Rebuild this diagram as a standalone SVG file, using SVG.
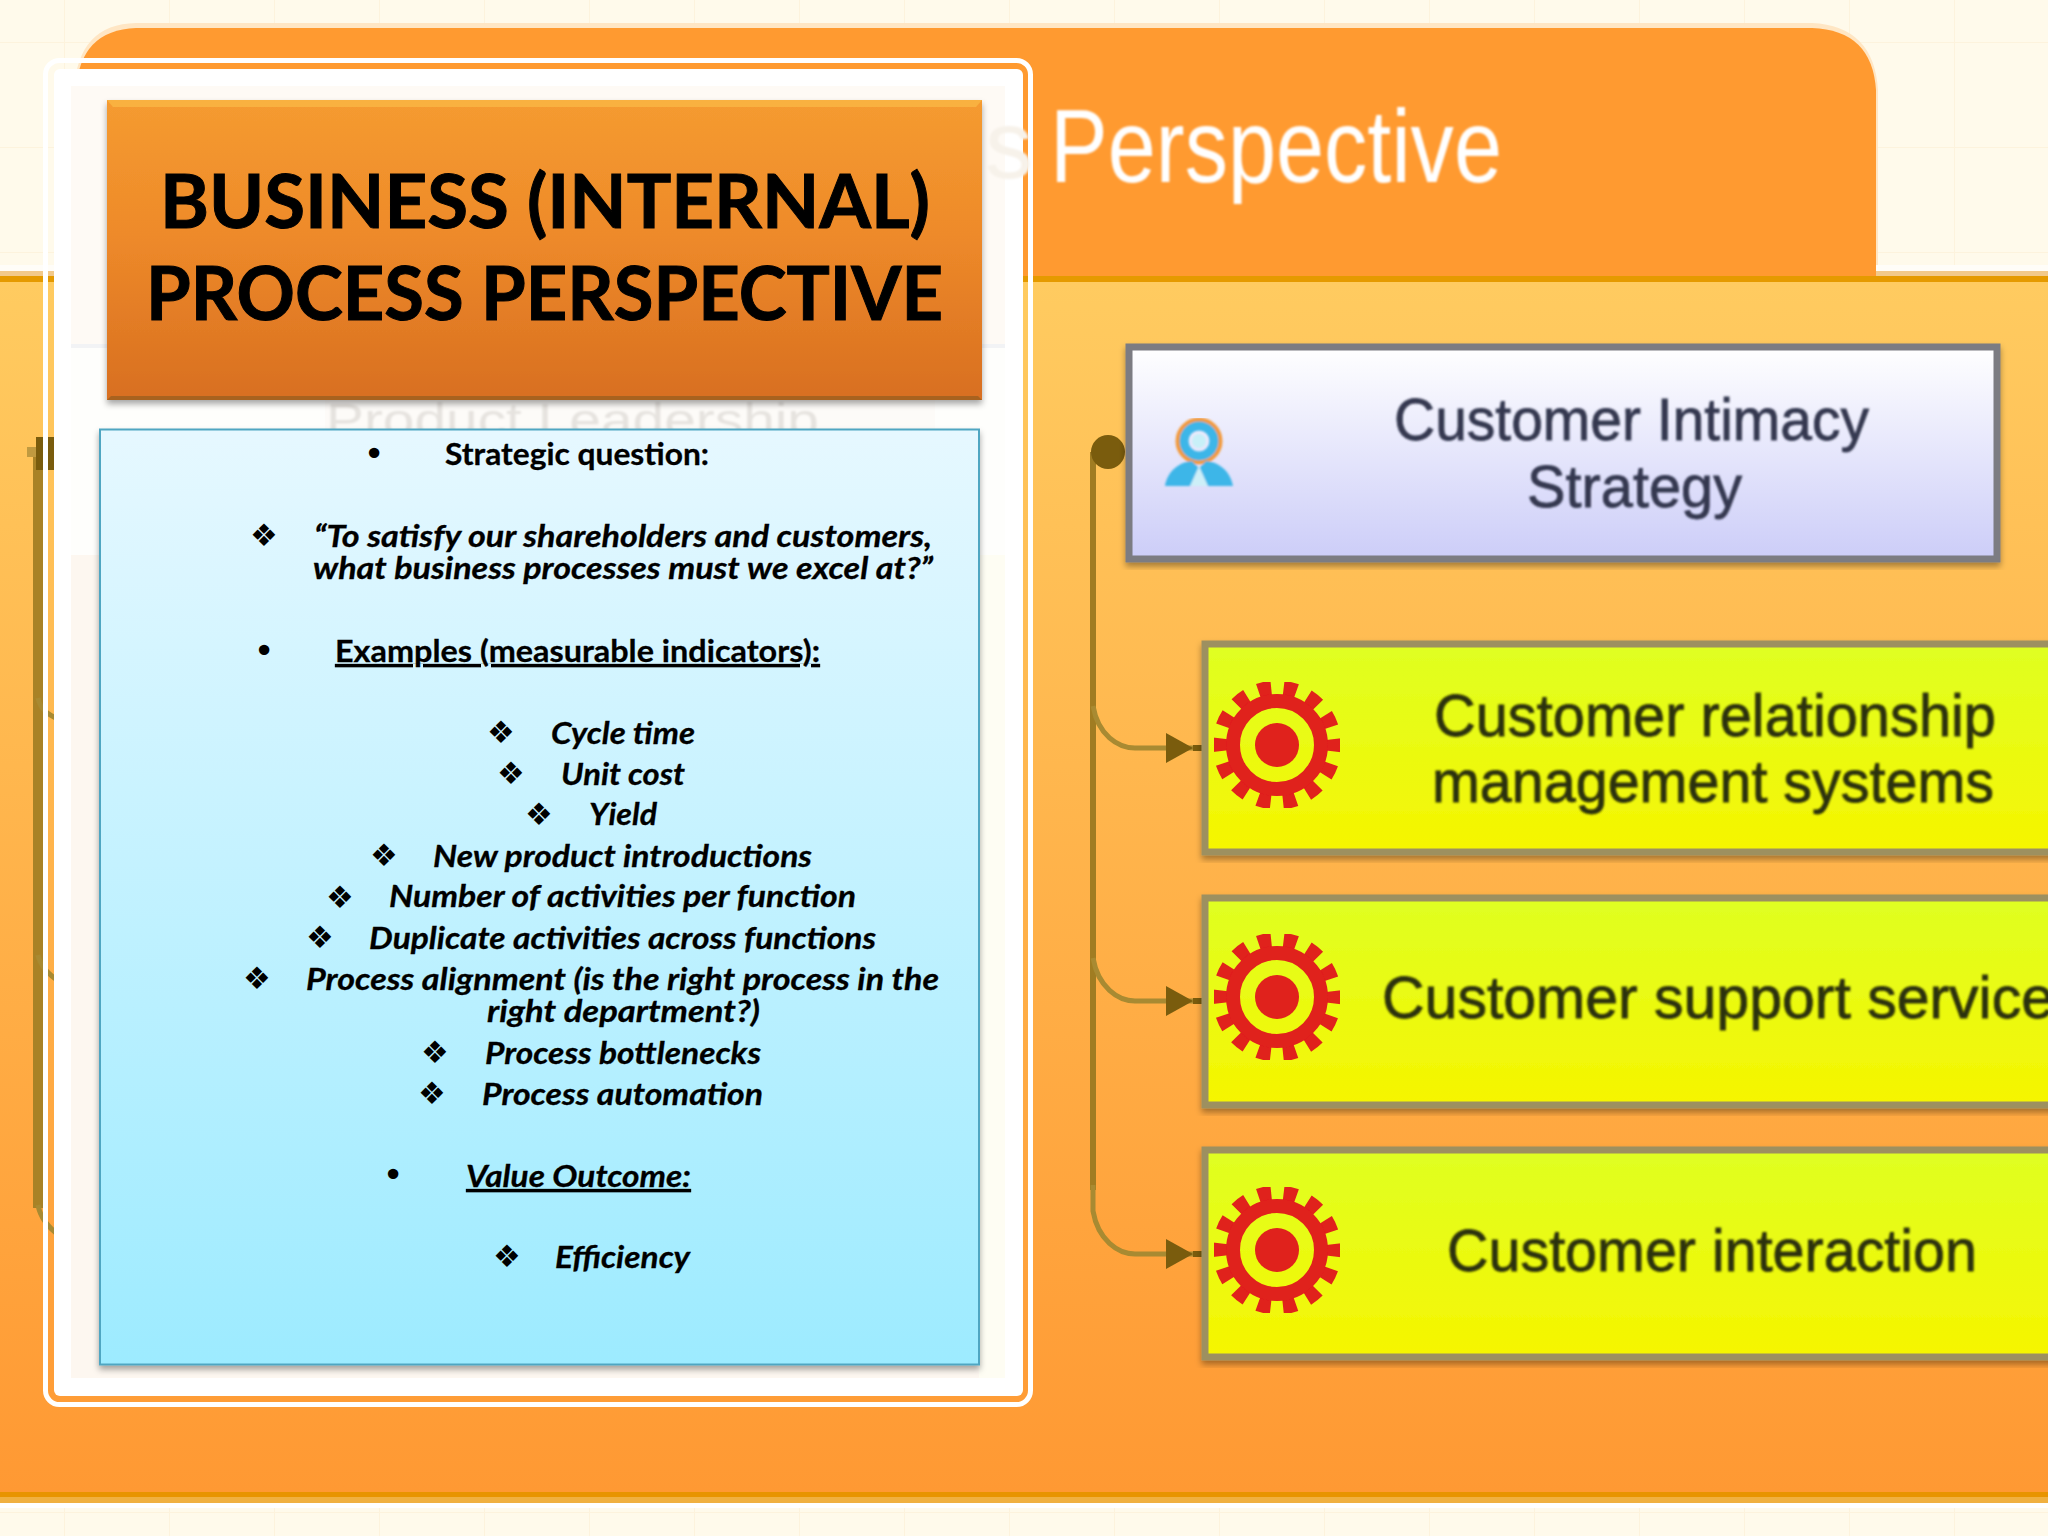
<svg xmlns="http://www.w3.org/2000/svg" width="2048" height="1536" viewBox="0 0 2048 1536">
<style>
.b{font-family:"Lato","Carlito","Liberation Sans",sans-serif;font-weight:700;font-size:31px;fill:#000;stroke:#000;stroke-width:.3px}
.i{font-style:italic}
.u{text-decoration:underline}
.t{font-family:"Lato","Liberation Sans",sans-serif;font-weight:700;font-size:75px;fill:#000;stroke:#000;stroke-width:1px}
.m{font-family:"DejaVu Sans",sans-serif;font-size:31px;fill:#000;text-anchor:middle}
.n{font-family:"DejaVu Sans",sans-serif;font-size:36px;fill:#000;text-anchor:middle}
.d{font-family:"Liberation Sans",Arial,sans-serif;font-size:60px;fill:#2c3008;stroke:#2c3008;stroke-width:.8px}
.s{fill:#343850;stroke:#343850}
.line{fill:none;stroke:#a07c20;stroke-width:6}
.br{fill:none;stroke:#a88a30;stroke-width:5}
</style>
<defs>
<pattern id="grid" width="105" height="105" patternUnits="userSpaceOnUse" patternTransform="translate(64 42)"><rect width="105" height="105" fill="#fffaeb"/><path d="M0,0V105M0,0H105" stroke="#fdf3dd" stroke-width="2" fill="none"/></pattern>
<linearGradient id="body" x1="0" y1="0" x2="0" y2="1"><stop offset="0" stop-color="#ffcb60"/><stop offset="1" stop-color="#ff9933"/></linearGradient>
<linearGradient id="title" x1="0" y1="0" x2="0" y2="1"><stop offset="0" stop-color="#f59b30"/><stop offset=".45" stop-color="#ee8a2a"/><stop offset="1" stop-color="#d86f20"/></linearGradient>
<linearGradient id="blue" x1="0" y1="0" x2="0" y2="1"><stop offset="0" stop-color="#e6f8ff"/><stop offset="1" stop-color="#9debff"/></linearGradient>
<linearGradient id="lav" x1="0" y1="0" x2="0" y2="1"><stop offset="0" stop-color="#ffffff"/><stop offset="1" stop-color="#cccdf8"/></linearGradient>
<linearGradient id="yel" x1="0" y1="0" x2="0" y2="1"><stop offset="0" stop-color="#dfff22"/><stop offset="1" stop-color="#f6f500"/></linearGradient>
<filter id="soft" x="-5%" y="-5%" width="110%" height="110%"><feGaussianBlur stdDeviation=".9"/></filter>
<filter id="soft2" x="-5%" y="-5%" width="110%" height="110%"><feGaussianBlur stdDeviation=".7"/></filter>
<filter id="sh" x="-5%" y="-5%" width="110%" height="110%"><feDropShadow dx="0" dy="4" stdDeviation="3" flood-color="#000" flood-opacity=".35"/></filter>
<marker id="arrow" markerUnits="userSpaceOnUse" markerWidth="36" markerHeight="32" viewBox="0 0 36 32" refX="36" refY="16" orient="auto"><path d="M0,1L27,16L0,31Z M27,13H36V19H27Z" fill="#7a5c10"/></marker>
<g id="sun" filter="url(#soft2)">
<circle r="57" fill="none" stroke="#e0201c" stroke-width="15" stroke-dasharray="13 12.58" stroke-dashoffset="6.5"/>
<circle r="44" fill="none" stroke="#e0201c" stroke-width="14"/>
<circle r="22" fill="#e0201c"/>
</g>
<clipPath id="ghost"><rect x="300" y="400" width="640" height="29"/></clipPath>
</defs>

<rect id="background" width="2048" height="1536" fill="url(#grid)"/>

<g id="panel">
<path d="M74,90Q78,24 136,23H1812Q1874,26 1878,90V271H2048V282H0V271H74Z" fill="#ffe6c4"/>
<path d="M0,265H2048V271H0Z" fill="#fffdf8"/>
<path d="M0,271H2048V277H0Z" fill="#f2c98a"/>
<path d="M76,282V90Q80,30 136,28H1812Q1872,30 1876,90V282Z" fill="#ff9a30"/>
<rect y="276" width="2048" height="6" fill="#e59a00"/>
<rect y="282" width="2048" height="1210" fill="url(#body)"/>
<rect y="1492" width="2048" height="5" fill="#e89400"/>
<rect y="1497" width="2048" height="6" fill="#f0b040"/>
<rect y="1503" width="2048" height="5" fill="#ffffff"/>
<text x="1050" y="182" font-family="Liberation Sans, Arial, sans-serif" font-size="103" fill="#fff" textLength="452" lengthAdjust="spacingAndGlyphs" filter="url(#soft)">Perspective</text>
</g>

<g id="connectors" filter="url(#soft2)">
<path class="line" d="M1093,452V1190"/>
<circle cx="1108" cy="452" r="17" fill="#7a5c10"/>
<path class="br" d="M1093,706C1098,735 1118,748 1135,748H1202" marker-end="url(#arrow)"/>
<path class="br" d="M1093,958C1098,987 1118,1001 1135,1001H1202" marker-end="url(#arrow)"/>
<path class="br" d="M1093,1185V1211C1098,1240 1118,1254 1135,1254H1202" marker-end="url(#arrow)"/>
<path d="M33,452H43V1208H33Z" fill="#a88228"/>
<path d="M27,447H38V457H27Z" fill="#c09a40"/>
<path d="M36,437H60V470H36Z" fill="#7a5c10"/>
<path class="br" d="M38,698C40,708 46,714 60,720"/>
<path class="br" d="M38,955C40,965 46,973 60,982"/>
<path class="br" d="M38,1205C40,1216 46,1226 60,1236"/>
</g>

<g id="node-intimacy">
<rect x="1129" y="347" width="868" height="212" fill="url(#lav)" stroke="#7b7b82" stroke-width="7" filter="url(#sh)"/>
<g filter="url(#soft)">
<circle cx="1199" cy="441" r="19" fill="none" stroke="#f39a3a" stroke-width="9"/>
<circle cx="1199" cy="441" r="15" fill="none" stroke="#3cb6e8" stroke-width="9"/>
<circle cx="1199" cy="441" r="7" fill="#c8f0f8"/>
<path d="M1165,486C1168,470 1180,462 1192,461L1199,468L1206,461C1218,462 1230,470 1233,486Z" fill="#3cb6e8"/>
<path d="M1190,486L1199,466L1208,486Z" fill="#cdeff8"/>
</g>
<text class="d s" x="1394" y="440" font-size="62" textLength="475" lengthAdjust="spacingAndGlyphs" filter="url(#soft)">Customer Intimacy</text>
<text class="d s" x="1527" y="507" font-size="62" textLength="215" lengthAdjust="spacingAndGlyphs" filter="url(#soft)">Strategy</text>
</g>

<g id="node-crm">
<rect x="1205" y="644" width="860" height="208" fill="url(#yel)" stroke="#9d9060" stroke-width="7" filter="url(#sh)"/>
<use href="#sun" x="1277" y="745"/>
<text class="d" x="1434" y="736" textLength="562" lengthAdjust="spacingAndGlyphs" filter="url(#soft)">Customer relationship</text>
<text class="d" x="1432" y="802" textLength="562" lengthAdjust="spacingAndGlyphs" filter="url(#soft)">management systems</text>
</g>
<g id="node-support">
<rect x="1205" y="898" width="860" height="207" fill="url(#yel)" stroke="#9d9060" stroke-width="7" filter="url(#sh)"/>
<use href="#sun" x="1277" y="997"/>
<text class="d" x="1382" y="1018" textLength="672" lengthAdjust="spacingAndGlyphs" filter="url(#soft)">Customer support service</text>
</g>
<g id="node-interaction">
<rect x="1205" y="1150" width="860" height="207" fill="url(#yel)" stroke="#9d9060" stroke-width="7" filter="url(#sh)"/>
<use href="#sun" x="1277" y="1250"/>
<text class="d" x="1447" y="1271" textLength="530" lengthAdjust="spacingAndGlyphs" filter="url(#soft)">Customer interaction</text>
</g>

<g id="frame">
<rect x="45.500" y="60.500" width="985" height="1344" rx="14" fill="none" stroke="#fff" stroke-width="5"/>
<rect x="54" y="69" width="969" height="1327" rx="6" fill="#fff"/>
<rect x="71" y="86" width="934" height="258" fill="#fefaf5"/>
<rect x="71" y="344" width="934" height="4" fill="#f2f3f5"/>
<rect x="71" y="348" width="934" height="207" fill="#fefefc"/>
<rect x="71" y="555" width="934" height="823" fill="#fdf7f0"/>
<rect x="979" y="555" width="26" height="823" fill="#fefdf3"/>
<rect x="325" y="400" width="610" height="29" fill="#fdfbf8"/>
<text x="326" y="436" font-family="Liberation Sans, Arial, sans-serif" font-size="46" fill="#e6e3df" textLength="493" lengthAdjust="spacingAndGlyphs" clip-path="url(#ghost)" filter="url(#soft)">Product Leadership</text>
<text x="985" y="178" font-family="Liberation Sans, Arial, sans-serif" font-size="96" fill="#f7f2ea" filter="url(#soft)">s</text>
</g>

<g id="title-box">
<rect x="107" y="100" width="875" height="300" fill="url(#title)" filter="url(#sh)"/>
<path d="M107,100H982L976,107H113Z" fill="#f9b140"/>
<path d="M107,400H982L978,396H111Z" fill="#a8621f"/>
<text class="t" x="160" y="228" textLength="770" lengthAdjust="spacingAndGlyphs">BUSINESS (INTERNAL)</text>
<text class="t" x="146" y="320" textLength="797" lengthAdjust="spacingAndGlyphs">PROCESS PERSPECTIVE</text>
</g>

<g id="content-box">
<rect x="100" y="429.500" width="879" height="935" fill="url(#blue)" stroke="#4fa6c2" stroke-width="2" filter="url(#sh)"/>
<text class="n" x="374" y="466">•</text>
<text class="b" x="445" y="465" textLength="264" lengthAdjust="spacingAndGlyphs">Strategic question:</text>
<text class="m" x="264" y="546">❖</text>
<text class="b i" x="314" y="547" textLength="618" lengthAdjust="spacingAndGlyphs">“To satisfy our shareholders and customers,</text>
<text class="b i" x="313" y="579" textLength="620" lengthAdjust="spacingAndGlyphs">what business processes must we excel at?”</text>
<text class="n" x="264" y="663">•</text>
<text class="b u" x="335" y="662" textLength="485" lengthAdjust="spacingAndGlyphs">Examples (measurable indicators):</text>
<text class="m" x="501" y="743">❖</text>
<text class="b i" x="551" y="744" textLength="144" lengthAdjust="spacingAndGlyphs">Cycle time</text>
<text class="m" x="511" y="784">❖</text>
<text class="b i" x="561" y="785" textLength="124" lengthAdjust="spacingAndGlyphs">Unit cost</text>
<text class="m" x="539" y="825">❖</text>
<text class="b i" x="589" y="825" textLength="68" lengthAdjust="spacingAndGlyphs">Yield</text>
<text class="m" x="384" y="866">❖</text>
<text class="b i" x="433" y="867" textLength="379" lengthAdjust="spacingAndGlyphs">New product introductions</text>
<text class="m" x="340" y="908">❖</text>
<text class="b i" x="389" y="907" textLength="467" lengthAdjust="spacingAndGlyphs">Number of activities per function</text>
<text class="m" x="320" y="948">❖</text>
<text class="b i" x="369" y="949" textLength="507" lengthAdjust="spacingAndGlyphs">Duplicate activities across functions</text>
<text class="m" x="257" y="989">❖</text>
<text class="b i" x="306" y="990" textLength="633" lengthAdjust="spacingAndGlyphs">Process alignment (is the right process in the</text>
<text class="b i" x="487" y="1022" textLength="273" lengthAdjust="spacingAndGlyphs">right department?)</text>
<text class="m" x="435" y="1063">❖</text>
<text class="b i" x="485" y="1064" textLength="276" lengthAdjust="spacingAndGlyphs">Process bottlenecks</text>
<text class="m" x="432" y="1104">❖</text>
<text class="b i" x="482" y="1105" textLength="281" lengthAdjust="spacingAndGlyphs">Process automation</text>
<text class="n" x="393" y="1187">•</text>
<text class="b i u" x="466" y="1187" textLength="225" lengthAdjust="spacingAndGlyphs">Value Outcome:</text>
<text class="m" x="507" y="1267">❖</text>
<text class="b i" x="555" y="1268" textLength="135" lengthAdjust="spacingAndGlyphs">Efficiency</text>
</g>
</svg>
